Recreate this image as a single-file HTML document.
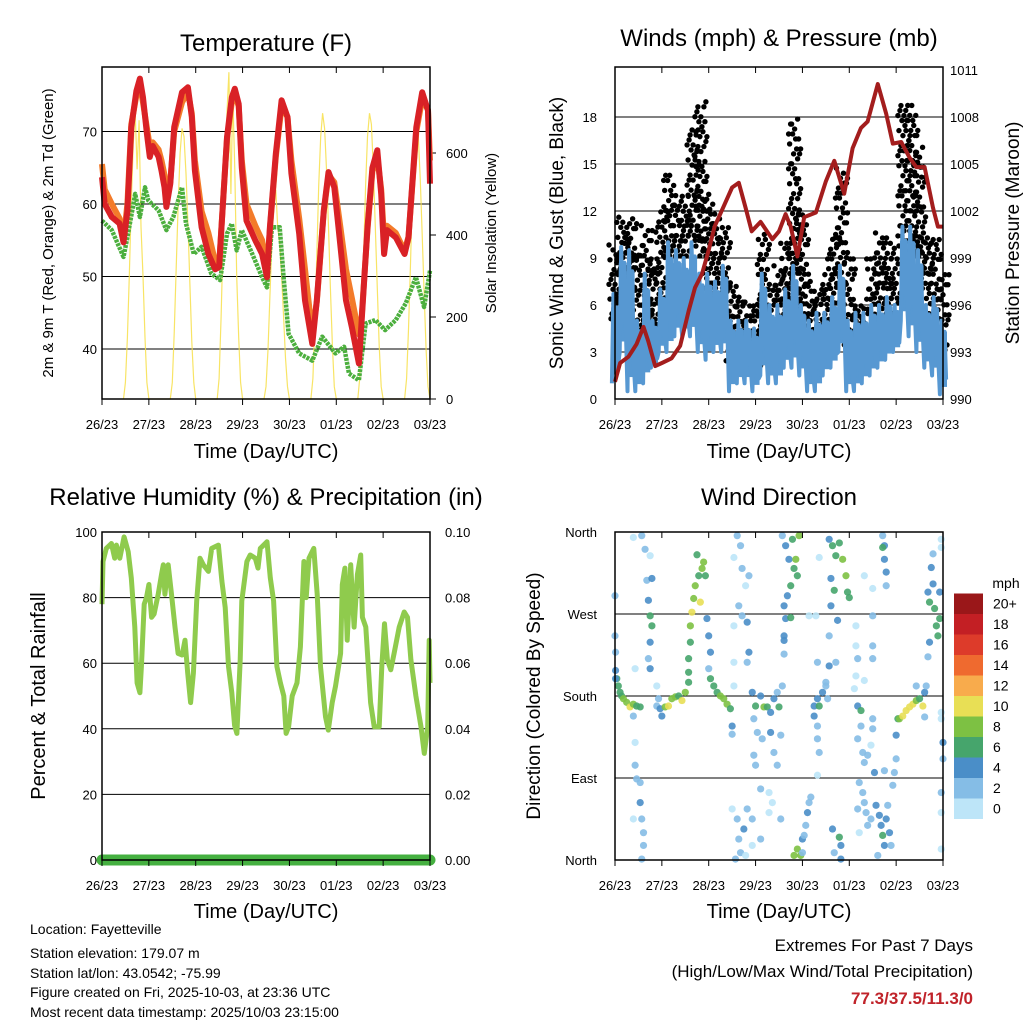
<!DOCTYPE html>
<html><head><meta charset="utf-8"><style>
html,body{margin:0;padding:0;background:#fff;width:1024px;height:1024px;overflow:hidden}
svg{display:block;font-family:"Liberation Sans",Arial,sans-serif}
</style></head><body>
<svg id="chart" width="1024" height="1024" viewBox="0 0 1024 1024" xmlns="http://www.w3.org/2000/svg">
<rect x="0" y="0" width="1024" height="1024" fill="#fff"/>
<text x="266" y="51" font-size="24" text-anchor="middle">Temperature (F)</text>
<text x="779" y="46" font-size="24" text-anchor="middle">Winds (mph) &amp; Pressure (mb)</text>
<text x="266" y="505" font-size="24" text-anchor="middle">Relative Humidity (%) &amp; Precipitation (in)</text>
<text x="779" y="505" font-size="24" text-anchor="middle">Wind Direction</text>
<text x="266" y="458" font-size="20" text-anchor="middle">Time (Day/UTC)</text>
<text x="779" y="458" font-size="20" text-anchor="middle">Time (Day/UTC)</text>
<text x="266" y="918" font-size="20" text-anchor="middle">Time (Day/UTC)</text>
<text x="779" y="918" font-size="20" text-anchor="middle">Time (Day/UTC)</text>
<text transform="translate(53,233) rotate(-90)" font-size="15" text-anchor="middle">2m &amp; 9m T (Red, Orange) &amp; 2m Td (Green)</text>
<text transform="translate(496,233) rotate(-90)" font-size="15" text-anchor="middle">Solar Insolation (Yellow)</text>
<text transform="translate(563,233) rotate(-90)" font-size="19" text-anchor="middle">Sonic Wind &amp; Gust (Blue, Black)</text>
<text transform="translate(1019,233) rotate(-90)" font-size="19" text-anchor="middle">Station Pressure (Maroon)</text>
<text transform="translate(45,696) rotate(-90)" font-size="20" text-anchor="middle">Percent &amp; Total Rainfall</text>
<text transform="translate(540,696) rotate(-90)" font-size="19" text-anchor="middle">Direction (Colored By Speed)</text>
<g font-size="14">
<text x="30" y="934">Location: Fayetteville</text>
<text x="30" y="958">Station elevation: 179.07 m</text>
<text x="30" y="978">Station lat/lon: 43.0542; -75.99</text>
<text x="30" y="997">Figure created on Fri, 2025-10-03, at 23:36 UTC</text>
<text x="30" y="1017">Most recent data timestamp: 2025/10/03 23:15:00</text>
</g>
<text x="973" y="951" font-size="17" text-anchor="end">Extremes For Past 7 Days</text>
<text x="973" y="977" font-size="17" text-anchor="end">(High/Low/Max Wind/Total Precipitation)</text>
<text x="973" y="1004" font-size="17" font-weight="bold" fill="#c0232a" text-anchor="end">77.3/37.5/11.3/0</text>
<g id="layer"></g>
</svg>
<script>
// ---------- Temperature data ----------
const tHours=[0,1.4,5,9,11,13,15,17.6,19.4,21,23,24.5,26,29,30.5,32,33,35,37,41,44,46,47.6,51,54.5,58,60,61,64,66.5,68,70,71.6,74,78.5,82,84.5,86,89,92,95,97,101,104,107.7,110,113.6,116,119,122,125,128,131.6,133,136,138.5,141,143,144.5,146,150.5,155,157,161,164,167,168];
const t2m=[63.7,60,58.2,57.3,54.7,59,70.6,75.6,77.3,74.7,69.7,66.5,68,66.5,64.6,62.3,59.6,62.8,70.6,75.4,76.1,72,64.6,56.8,53.1,51,51.3,55.9,69.2,74.7,75.9,73.8,65,57.7,55,53.1,49.9,56.8,66.9,74.3,72,64.2,55.9,46.7,40.7,46.7,59.1,64.4,62.3,54.5,46.7,43,38,44,56.8,65,67.4,61.4,53.1,56.4,55.4,53.1,55.4,70.6,75.4,72.9,62.8];
const t9m=[65.5,62,60,58,55,60,71,75,76.5,74,70.5,68,68.5,67.5,66,64,62,63,70,74,75.5,72.5,66,59,56,52,51.5,56,69,74,75,73.5,66,60,57,55,51,56.5,66.5,73.5,72,66,58,51,42,46.5,59,64,63,57,51,47,42,44.5,56.5,64.5,66.5,62,55,57,56,53.5,55.5,70,74.5,73,66];
const tdHours=[0,5,11,13,17,19.4,22,23.7,29,33,36.5,41,43,47,51,56,60.5,64,66.5,69,71.6,77,82,84.5,87,91,93,95.6,101,107.7,112.8,119.6,124,126.5,131.6,135,140,145,150.5,155.6,160.8,165,168];
const td2m=[57.7,56.4,52.7,55.4,61.4,58.2,62.3,60.5,59.1,56.4,58.2,62.3,57.3,53.1,54.1,50.4,49.5,55.9,57.3,53.6,56.4,53.1,49.9,48.5,56.8,56.8,49.9,42.1,39.4,38.4,41.7,39.4,40.3,36.6,35.7,43.5,44,42.6,44,46.3,49.9,45.8,50.8];
const solarHours=[11,12,13,14,15,16,17,18,19,20,21,22,23,24,35,36,37,38,39,40,41,42,43,44,45,46,47,48,59,60,61,62,63,64,65,66,67,68,69,70,71,72,83,84,85,86,87,88,89,90,91,92,93,94,95,96,107,108,109,110,111,112,113,114,115,116,117,118,119,120,131,132,133,134,135,136,137,138,139,140,141,142,143,144,155,156,157,158,159,160,161,162,163,164,165,166,167,168];
const solar=[0,40,150,300,480,620,700,560,680,420,300,150,40,0, 0,40,160,320,470,600,660,640,550,430,280,140,40,0, 0,50,200,380,560,700,797,500,740,560,300,150,40,0, 0,30,120,250,380,480,510,420,380,300,200,100,30,0, 0,50,180,350,520,640,697,660,560,420,270,130,30,0, 0,50,180,350,520,640,697,670,560,420,270,130,30,0, 0,50,170,330,500,620,673,640,540,400,260,120,30,0];
const tTicks=[40,50,60,70];
const solarTicks=[0,200,400,600];
const dayLabels=["26/23","27/23","28/23","29/23","30/23","01/23","02/23","03/23"];
// ---------- Wind / pressure data ----------
const windBinHours=[0,4,8,12,16,20,24,28,32,36,40,44,48,52,56,60,64,68,72,76,80,84,88,92,96,100,104,108,112,116,120,124,128,132,136,140,144,148,152,156,160,164,168];
const windLo=[1,3,0.5,0.5,1,2,3,3,4,4,4,3,2.5,3,3,0.5,1,1,0.5,1.5,1,1,2,2,1.5,0.5,0.5,1.5,2,3,0.5,0.5,1,1.5,2,2.5,3,5,4,3,2,1.5,0.3];
const windHi=[6.7,9.7,9.5,5,8,5,7,10,9.5,9,10,8,8,7.5,8.5,5,5,5,4.5,8,6,6,7,8.5,6,5,5.5,5.5,6.5,8.5,5,5.5,5.5,6,6,6.5,6,11,11,9.5,6,6.5,5];
const gustLo=[5,6,7,3,3,4,6,9,9,9,10,9,6,6,6,2,2,3,2,4,3,4,4,6,5,3,3,4,6,7,3,2,2.5,4,6,5,6,9,9,8,5,5,3];
const gustHi=[9.7,11.6,11.5,9.3,11,9,12.2,14.4,12.5,13,17.3,18.9,13,11.5,11,7.5,6.5,6,6,10.5,7,8.5,10,17.8,12,7.5,6.7,8,10.5,14.6,9,6,5.7,9,10.6,10,9,18.6,18.8,16,10.6,10.3,8];
const presHours=[0,2.6,6.9,11,14.6,17,20.6,24,29,33.4,37.7,41,44.6,48,51,55.7,60,63.4,66.9,70,74.6,80.6,84,87.4,90,93.4,96.9,102.9,108,112.3,117.4,121.7,126,129.4,134.6,138.9,142.3,146.6,150.9,154.3,158.6,162.9,165.4,168];
const pressure=[991.1,992.3,992.7,993.5,994.6,993.7,992.1,992.3,992.6,993.4,995.6,997.1,998,999.5,1001,1002.3,1003.5,1003.8,1002.2,1000.7,1001.3,1000.2,1000.7,1001.8,1001,999.1,1001.6,1001.9,1003.9,1005.2,1003.1,1006,1007.3,1007.7,1010.1,1008.2,1006.3,1006.4,1005.4,1004.8,1004.8,1002.2,1001,1001];
const windTicks=[0,3,6,9,12,15,18];
const presTicks=[990,993,996,999,1002,1005,1008,1011];
// ---------- RH data ----------
const rhHours=[0,0.5,2.2,4.8,6.5,7.4,9.1,11.3,13.4,15,16.8,18,19.4,20.2,21.6,22.8,24,25.4,26.7,28.8,30.5,31.4,32.2,33.9,35.6,37.4,39,41.1,42.5,43.9,45.4,46.8,48.5,50.2,51.9,54.5,56.2,59.6,61.4,63.1,64.8,66.5,67.9,69.1,70.8,71.6,74.2,75.9,78.5,79.9,81.1,84.5,86.2,87.9,89.6,91.4,93.1,94.3,95.6,97.4,99.9,101.6,103.4,104.6,106,108.5,110.2,111.9,114.5,115.9,117.9,119.6,122.2,123.1,124.4,125.6,127.4,129.1,130.8,132.5,133.4,135.1,137.6,139.4,142,143.3,144.7,146.2,147.9,149.6,152.2,154.8,156.5,158.2,160.8,163.4,165.1,166.8,167.6,168];
const rh=[78,91,95,96.5,92,96,92,98.5,94,86,71,54,51,59,78,80,84,74,75,81,87,90,81,90,81,71,63,62.5,67,57,48,57,79,92,90,88,95,96,85,77,59,51,41,38.6,61,79,91,93,92,89,95,97,86,79,59,54,50,38.6,40.6,50,54,65,91,80,92,95,81,59,43.7,39.6,48,53,63,84,89,67,90,71,87,93,74,71,48,40.6,40.6,59,72,61,58,63,71,75.6,74,61,50,40.6,32.5,40.6,67,54];
const rainHours=[0,168];
const rain=[0,0];
const rhTicks=[0,20,40,60,80,100];
const rainTicks=["0.00","0.02","0.04","0.06","0.08","0.10"];
// ---------- Wind direction data ----------
const dirHours=[0.9,1.7,2.6,3.4,4.3,6,7.7,9.4,11.1,12.9, 0,0,0.3,0.3,0.3, 9.4,10.3,10.3,11.1,12.9,12.9,13.7,14.6,14.6,13.7,9.4,10.3,9.4,13.7,15.4,16.3,18,18.9,17.1,18,18.9,18,17.1,18,21.4,22.3,21.4, 23.1,24,25.7,27.4,29.1,30.9,32.6,34.3,36,37.7,37.7, 37.7,38.6,38.6,39.4,40.3,41.1,42.9,43.7,44.6,45.4,46.3,42, 47.1,48,48.9,48, 48.9,50.6,52.3,54,55.7,57.4,59.1,60,60, 60.9,62.6,64.3,65.1,66.9,68.6,63.4,65.1,67.7,68.6,67.7,60.9,60.9,60.9,62.6,63.4,64.3,66,66.9,70.3,61.7,67.7,60,70.3,74.6,74.6,78.9,80.6,78.9,84.9, 70.3,72,74.6,76.3,78,79.7,81.4,83.1,84,71.1,72.9,75.4,71.1,72,79.7,81.4,83.1,84.9,85.7, 85.7,87.4,89.1,90.9,91.7,92.6,93.4,94.3,90,88.3,86.6,87.4,90,86.6,86.6,86.6, 99.4,102.9,103.7,102,103.7,106.3,108,104.6,102,103.7,103.7,104.6,103.7, 91.7,93.4,95.1,96,97.7,98.6,99.4,100.3,96.9,96, 109.7,111.4,113.1,114.9,116.6,118.3,119.1,120,112.3,110.6,110.6,114,109.7,109.7,104.6,108,108.9,111.4,114.9,115.7,115.7,112.3,113.1,123.4,124.3,123.4,122.6,127.7,132,132,127.7,132,132,123.4,138, 124.3,126,126,124.3,126.9,127.7,129.4,131.1,132.9,125.1,126.9,127.7,128.6,129.4,125.1,132,132,124.3,131.1, 133.7,135.4,136.3,137.1,138,138.9,139.7,140.6,141.4,134.6,142.3,143.1,144,144,144.9, 137.1,138,138,138.9,138.9,137.1, 145.7,147.4,149.1,150.9,152.6,154.3,156,157.7,158.6,159.4,154.3,158.6, 160.3,161.1,162,162.9,163.7,164.6,165.4,166.3,166.3,161.1,160.3,162.9,167.1,167.1,167.1,167.1,168,168,167.1,167.1,167.1];
const dirDeg=[199,191,184,180,177,173,168,171,169,168, 290,246,228,208,199, 158,129,104,89,85,63,45,30,16,1,45,210,354,356,341,307,334,309,285,268,257,239,221,210,191,177,169, 166,158,168,169,177,179,180,175,184,195,206, 221,239,257,272,287,301,312,283,320,327,312,335, 265,246,228,210, 199,191,184,180,177,171,166,147,138, 332,356,345,320,301,312,279,268,261,228,217,257,217,191,45,23,8,34,5,16,1,56,56,45,78,23,74,63,52,45, 184,169,180,168,168,162,177,184,168,155,140,133,115,104,140,118,104,137,191, 356,345,330,352,320,330,312,356,301,290,279,265,266,246,241,226, 268,268,217,169,177,184,195,169,158,147,133,118,93, 5,12,5,23,38,52,63,69,27,8, 352,345,334,348,330,312,294,288,296,309,279,263,246,213,332,191,177,34,25,16,1,8,217,235,221,202,188,197,235,221,312,298,268,257,98, 169,164,147,133,118,107,115,126,96,85,74,63,52,38,30,155,144,56,45, 60,49,38,27,16,45,60,30,16,5,82,96,111,137,155, 356,345,330,316,301,343, 155,158,164,168,171,175,177,169,184,191,191,157, 294,283,321,303,276,257,246,294,265,239,223,336,352,343,162,155,129,111,74,52,12];
const dirSpeed=[6,6,7,6,8,8,10,8,7,6, 3,2,3,4,4, 3,1,2,3,2,4,3,2,2,2,1,1,1,2,3,2,1,4,4,6,7,4,3,4,1,2,3, 4,5,9,10,8,9,7,10,8,6,6, 6,6,9,10,8,8,7,10,9,8,7,6, 4,4,4,3, 6,6,7,8,8,8,6,4,2, 1,2,2,2,1,3,3,2,4,4,2,1,1,1,2,3,2,4,1,1,2,2,1,2,3,2,1,1,1,2, 4,6,5,8,7,5,4,3,6,3,3,2,2,2,4,2,2,2,3, 3,4,4,6,6,8,6,8,7,4,4,4,6,4,4,3, 1,1,2,4,5,4,3,6,4,3,2,2,1, 8,8,8,4,3,4,3,2,3,2, 4,6,6,6,8,8,6,6,7,4,4,4,3,4,1,2,2,5,6,4,4,2,3,1,2,1,1,1,2,2,1,1,2,1,2, 4,6,2,2,2,3,2,1,4,2,2,3,2,2,1,3,2,2,2, 4,5,4,6,4,4,3,4,2,3,2,3,3,4,6, 3,4,4,4,3,6, 8,10,10,10,10,8,6,10,4,3,3,2, 4,6,4,4,6,6,6,4,6,4,3,3,1,1,1,1,4,3,2,1,1];
const dirLabels=["North","East","South","West","North"];
const speedBins=[0,2,4,6,8,10,12,14,16,18,20];
const speedLabels=["0","2","4","6","8","10","12","14","16","18","20+"];
const speedColors=["#bde5f8","#85bde6","#4a8ec8","#46a56c","#7dc143","#e8df55","#f8ab4c","#ef6a2f","#dd3b2a","#c31f24","#9a1719"];

// ---------- helpers ----------
const NS="http://www.w3.org/2000/svg";
const layer=document.getElementById('layer');
function mk(tag,attrs,parent){const e=document.createElementNS(NS,tag);for(const k in attrs)e.setAttribute(k,attrs[k]);(parent||layer).appendChild(e);return e;}
function txt(x,y,s,size,anchor){const e=mk('text',{x:x,y:y,'font-size':size,'text-anchor':anchor});e.textContent=s;return e;}
const W=328;
function xA(h){return 102+h*W/168;}
function xB(h){return 615+h*W/168;}
function yT(t){return 349-(t-40)*7.25;}
function ySol(s){return 399-s*0.41;}
function yW(m){return 399-m*15.67;}
function yP(p){return 399-(p-990)*15.67;}
function yRH(r){return 860-r*3.28;}
function yRain(v){return 860-v*3280;}
function yD(d){return 860-d*328/360;}
function path(xs,ys){return xs.map((x,i)=>(i?'L':'M')+x.toFixed(1)+' '+ys[i].toFixed(1)).join(' ');}

function frame(x0,y0,x1,y1,name){
  const r=mk('rect',{x:x0,y:y0,width:x1-x0,height:y1-y0,fill:'none',stroke:'#000','stroke-width':1.5});
  
  
  for(let d=0;d<=7;d++){
    const x=x0+d*(x1-x0)/7;
    const t1=mk('line',{x1:x,y1:y1,x2:x,y2:y1+6,stroke:'#000','stroke-width':1});
    
    
    const t2=mk('line',{x1:x,y1:y0,x2:x,y2:y0+6,stroke:'#000','stroke-width':1});
    
    
    const l=txt(x,y1+30,dayLabels[d],13,'middle');
    
    
  }
}
function gridline(x0,x1,y,name){
  const g=mk('line',{x1:x0,y1:y,x2:x1,y2:y,stroke:'#000','stroke-width':1});
  
  
}

// ---------- Panel A: temperature ----------
tTicks.forEach(t=>{gridline(102,430,yT(t),'temp-gridline');
  const l=txt(97,yT(t)+5,String(t),13,'end');
  
  });
solarTicks.forEach(s=>{
  const l=txt(446,ySol(s)+5,String(s),13,'start');
  
  
  const tk=mk('line',{x1:430,y1:ySol(s),x2:436,y2:ySol(s),stroke:'#000'});
  
  });
const solarLine=mk('path',{d:path(solarHours.map(xA),solar.map(ySol)),fill:'none',stroke:'#f7df4a','stroke-width':1.2,'stroke-opacity':0.85});


const tdLine=mk('path',{d:path(tdHours.map(xA),td2m.map(yT)),fill:'none',stroke:'#4caf3e','stroke-width':4.5,'stroke-linejoin':'round','stroke-dasharray':'3 1'});


const t9Line=mk('path',{d:path(tHours.map(xA),t9m.map(yT)),fill:'none',stroke:'#f37b2a','stroke-width':6,'stroke-linejoin':'round'});


const t2Line=mk('path',{d:path(tHours.map(xA),t2m.map(yT)),fill:'none',stroke:'#d92126','stroke-width':6,'stroke-linejoin':'round'});


frame(102,67,430,399,'temp');

// ---------- Panel B: winds ----------
windTicks.forEach(m=>{if(m>0)gridline(615,943,yW(m),'wind-gridline');
  const l=txt(597,yW(m)+5,String(m),13,'end');
  
  });
presTicks.forEach(p=>{
  const l=txt(950,yP(p)+5,String(p),13,'start');
  
  });
const jitter=[0,-5,3,-2,6,-4,1,5,-6,2,-3,4,-1];
windBinHours.forEach((h,i)=>{
  const lo=gustLo[i],hi=gustHi[i];
  const n=Math.max(1,Math.round((yW(lo)-yW(hi))/3));
  for(let k=0;k<=n;k++){
    const v=lo+(hi-lo)*k/n;
    const off=jitter[(k*5+i*3)%jitter.length];
    const c=mk('circle',{cx:xB(h)+off,cy:yW(v)+((k*3)%5-2),r:2.7,fill:'#000'});
    
    
  }
});
windBinHours.forEach((h,i)=>{
  const r=mk('rect',{x:xB(h)-4,y:yW(windHi[i]*0.85+windLo[i]*0.15),width:8,height:(windHi[i]-windLo[i])*0.75*15.67,fill:'#5798d2'});
  
  
});
let bx=[],by=[];
windBinHours.forEach((h,i)=>{
  const lo=windLo[i],hi=windHi[i];
  bx.push(xB(h-1.6),xB(h-0.8),xB(h),xB(h+0.8),xB(h+1.6));
  by.push(yW(lo),yW(hi),yW(lo+(hi-lo)*0.3),yW(hi-(hi-lo)*0.15),yW(lo+(hi-lo)*0.2));
});
const windLine=mk('path',{d:path(bx,by),fill:'none',stroke:'#5798d2','stroke-width':4,'stroke-linejoin':'round'});


const presLine=mk('path',{d:path(presHours.map(xB),pressure.map(yP)),fill:'none',stroke:'#a31d1d','stroke-width':4,'stroke-linejoin':'round'});


frame(615,67,943,399,'wind');

// ---------- Panel C: RH ----------
rhTicks.forEach((r,i)=>{if(r>0&&r<100)gridline(102,430,yRH(r),'rh-gridline');
  const l=txt(97,yRH(r)+5,String(r),13,'end');
  
  
  const l2=txt(445,yRH(r)+5,rainTicks[i],13,'start');
  
  });
const rhLine=mk('path',{d:path(rhHours.map(xA),rh.map(yRH)),fill:'none',stroke:'#8fcb4d','stroke-width':5,'stroke-linejoin':'round'});


const rainLine=mk('path',{d:path(rainHours.map(xA),rain.map(yRain)),fill:'none',stroke:'#45b040','stroke-width':11,'stroke-linecap':'round'});


frame(102,532,430,860,'rh');

// ---------- Panel D: wind direction ----------
[90,180,270].forEach(d=>gridline(615,943,yD(d),'direction-gridline'));
dirLabels.forEach((s,i)=>{
  const l=txt(597,yD(i*90)+5,s,13,'end');
  
  });
function spdColor(s){let idx=0;for(let i=0;i<speedBins.length;i++){if(s>=speedBins[i])idx=i;}return speedColors[idx];}
dirHours.forEach((h,i)=>{
  const c=mk('circle',{cx:xB(h),cy:yD(dirDeg[i]),r:3.6,fill:spdColor(dirSpeed[i]),'fill-opacity':0.9});
  
  
});
frame(615,532,943,860,'direction');
// colorbar
const mph=txt(1006,588,'mph',14,'middle');


speedLabels.forEach((s,i)=>{
  const y=819-(i+1)*20.5;
  const r=mk('rect',{x:954,y:y,width:29,height:20.5,fill:speedColors[i]});
  
  
  const l=txt(993,y+15,s,14,'start');
  
  
});
</script>
</body></html>
